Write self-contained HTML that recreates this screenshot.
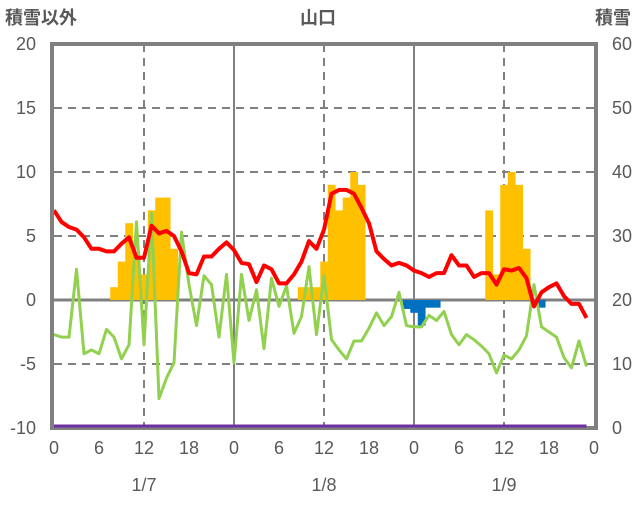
<!DOCTYPE html>
<html><head><meta charset="utf-8"><style>
html,body{margin:0;padding:0;background:#fff;}
svg text{font-family:"Liberation Sans","Noto Sans CJK JP",sans-serif;fill:#595959;}
</style></head><body>
<svg id="chart" width="636" height="501" xmlns="http://www.w3.org/2000/svg">
<g id="grid"></g>
<g id="bars"></g>
<g id="lines"></g>
<g id="axes"></g>
<g id="toplayer"></g>
<text x="5" y="24" font-size="18" font-weight="bold">積雪以外</text>
<text x="318" y="24" font-size="18" font-weight="bold" text-anchor="middle">山口</text>
<text x="631" y="24" font-size="18" font-weight="bold" text-anchor="end">積雪</text>
</svg>
<script>
const hours=[...Array(72).keys()];
const temp=[7.0,6.1,5.7,5.5,4.9,4.0,4.0,3.8,3.8,4.4,4.9,3.3,3.3,5.8,5.2,5.4,5.0,3.8,2.1,2.0,3.4,3.4,4.0,4.5,
3.9,2.9,2.8,1.4,2.7,2.4,1.3,1.3,2.0,3.0,4.6,4.0,5.5,8.3,8.6,8.6,8.3,7.2,6.0,3.8,3.2,2.7,2.9,2.7,
2.3,2.1,1.8,2.1,2.1,3.5,2.7,2.7,1.8,2.1,2.1,1.2,2.4,2.3,2.5,1.7,-0.5,0.6,1.0,1.3,0.3,-0.3,-0.3,-1.4];
const green=[-2.7,-2.9,-2.9,2.4,-4.2,-3.9,-4.2,-2.3,-2.9,-4.6,-3.5,6.1,-3.5,6.8,-7.7,-6.1,-4.9,5.3,1.2,-2.0,1.9,1.2,-2.9,2.0,
-4.9,2.0,-1.6,0.8,-3.8,1.7,-0.5,1.1,-2.6,-1.3,2.6,-2.7,1.9,-3.1,-3.9,-4.6,-3.2,-3.2,-2.2,-1.0,-2.0,-1.3,0.6,-2.0,
-2.1,-2.1,-1.2,-1.6,-0.9,-2.7,-3.5,-2.7,-3.1,-3.6,-4.2,-5.7,-4.3,-4.6,-3.9,-2.8,1.2,-2.1,-2.5,-2.9,-4.5,-5.3,-3.2,-5.2];
const snowHours=[8,9,10,11,12,13,14,15,16,33,34,35,36,37,38,39,40,41,58,59,60,61,62,63];
const snowVals=[1,3,6,3.5,2,7,8,8,4,1,1,1,3,9,7,8,10,9,7,2,9,10,9,4];
const meltHours=[47,48,49,50,51,65];
const meltVals=[-0.7,-1,-2,-0.6,-0.6,-0.6];
const depth=new Array(72).fill(0);
const leftTicks=[20,15,10,5,0,-5,-10];
const rightTicks=[60,50,40,30,20,10,0];
const xTickLabels=["0","6","12","18","0","6","12","18","0","6","12","18","0"];
const dateLabels=["1/7","1/8","1/9"];

const X0=54,X1=594,Y0=44,Y1=428;
const xs=h=>X0+(X1-X0)*h/72;
const yL=v=>Y1-(v+10)/30*(Y1-Y0);
const yR=v=>Y1-v/60*(Y1-Y0);
const NS="http://www.w3.org/2000/svg";
function mk(tag,attrs,parent){const e=document.createElementNS(NS,tag);for(const k in attrs)e.setAttribute(k,attrs[k]);parent.appendChild(e);return e;}
const grid=document.getElementById('grid'),bars=document.getElementById('bars'),lines=document.getElementById('lines'),axes=document.getElementById('axes'),topLayer=document.getElementById('toplayer');

leftTicks.forEach(v=>{
  if(v===20||v===-10)return;
  const l=mk('line',{x1:X0,x2:X1,y1:yL(v),y2:yL(v),stroke:'#808080','stroke-width':v===0?3:2,'stroke-dasharray':v===0?'none':'8,6'},grid);
  
  
});
for(let h=12;h<72;h+=12){
  const solid=h%24===0;
  const l=mk('line',{x1:xs(h),x2:xs(h),y1:Y0,y2:Y1,stroke:'#808080','stroke-width':2,'stroke-dasharray':solid?'none':'8,6'},grid);
  
  
}
const bw=(X1-X0)/72;
snowHours.forEach((h,i)=>{
  const v=snowVals[i];
  const r=mk('rect',{x:xs(h)-bw/2,y:yL(v),width:bw+0.3,height:yL(0)-yL(v),fill:'#FFC000'},bars);
  
  
});
meltHours.forEach((h,i)=>{
  const v=meltVals[i];
  const r=mk('rect',{x:xs(h)-bw/2,y:yL(0),width:bw+0.3,height:yL(v)-yL(0),fill:'#0070C0'},bars);
  
  
});
const gp=mk('polyline',{points:hours.map(h=>xs(h)+','+yL(green[h])).join(' '),fill:'none',stroke:'#92D050','stroke-width':3,'stroke-linejoin':'round'},lines);


const rp=mk('polyline',{points:hours.map(h=>xs(h)+','+yL(temp[h])).join(' '),fill:'none',stroke:'#FF0000','stroke-width':4,'stroke-linejoin':'round'},lines);



const fr=mk('rect',{x:X0-2,y:Y0,width:X1-X0+4,height:Y1-Y0,fill:'none',stroke:'#808080','stroke-width':4},axes);


const dp=mk('polyline',{points:hours.map(h=>xs(h)+','+(yR(depth[h])-2)).join(' '),fill:'none',stroke:'#7030A0','stroke-width':3},topLayer);


leftTicks.forEach(v=>{
  const t=mk('text',{x:36,y:yL(v)+6,'font-size':18,'text-anchor':'end'},axes);t.textContent=v;
  
  
});
rightTicks.forEach(v=>{
  const t=mk('text',{x:612,y:yR(v)+6,'font-size':18},axes);t.textContent=v;
  
  
});
xTickLabels.forEach((s,i)=>{
  const t=mk('text',{x:xs(i*6),y:454,'font-size':18,'text-anchor':'middle'},axes);t.textContent=s;
  
  
});
dateLabels.forEach((s,i)=>{
  const t=mk('text',{x:xs(12+24*i),y:491,'font-size':18,'text-anchor':'middle'},axes);t.textContent=s;
  
  
});
</script>
</body></html>
